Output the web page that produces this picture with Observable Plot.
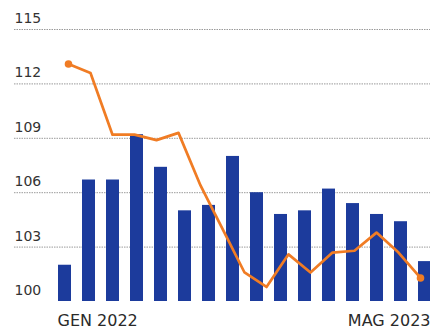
<!DOCTYPE html>
<html>
<head>
<meta charset="utf-8">
<script src="https://cdn.jsdelivr.net/npm/d3@7"></script>
<script src="https://cdn.jsdelivr.net/npm/@observablehq/plot@0.6"></script>
<style>
  html, body { margin: 0; padding: 0; background: #fff; overflow: hidden; }
  #wrap { position: relative; width: 430px; height: 329px; overflow: hidden; }
  #wrap svg { position: absolute; left: 0; top: 0; }
</style>
</head>
<body>
<div id="wrap"></div>
<script>
// Months (Jan 2022 – May 2023)
const months = ["GEN 2022","FEB 2022","MAR 2022","APR 2022","MAG 2022","GIU 2022","LUG 2022","AGO 2022","SET 2022","OTT 2022","NOV 2022","DIC 2022","GEN 2023","FEB 2023","MAR 2023","APR 2023","MAG 2023"];
// Bar series (visible months)
const barValues = [102.0, 106.7, 106.7, 109.2, 107.4, 105.0, 105.3, 108.0, 106.0, 104.8, 105.0, 106.2, 105.4, 104.8, 104.4, 102.2];
// Line series
const lineValues = [113.1, 112.6, 109.2, 109.2, 108.9, 109.3, 106.4, 104.0, 101.6, 100.8, 102.6, 101.6, 102.7, 102.8, 103.8, 102.7, 101.3];
const yTicks = [100, 103, 106, 109, 112, 115];
const xLabels = ["GEN 2022", "MAG 2023"];
const baseValue = 100;

const barData = barValues.map((v, i) => ({month: months[i], value: v}));
const lineData = lineValues.map((v, i) => ({month: months[i], value: v}));

const W = 430, H = 329;
const common = {
  width: W, height: H,
  marginTop: 29, marginBottom: 28,
  style: {fontFamily: "DejaVu Sans", background: "transparent", overflow: "visible"}
};

const barPlot = Plot.plot({
  ...common,
  marginLeft: 14, marginRight: 0,
  x: {type: "band", domain: months, range: [46.1, 467.2], padding: 0.46, axis: null},
  y: {domain: [100, 115], axis: null},
  marks: [
    Plot.ruleY(yTicks.filter(t => t > baseValue), {stroke: "#9a9a9a", strokeWidth: 1, strokeDasharray: "1.5,1"}),
    Plot.barY(barData, {x: "month", y1: () => baseValue, y2: "value", fill: "#1c3b9c"}),
    Plot.ruleY([baseValue], {stroke: "#4a4a4a", strokeWidth: 1.5, x1: () => 0.5}),
    Plot.axisY({ticks: yTicks, label: null, tickSize: 0, tickPadding: 0, textAnchor: "start", dx: 0, dy: -11, fontSize: 14, fill: "#333", anchor: "left", tickFormat: d => String(d), style: {letterSpacing: "0.6px"}})
  ]
});

const linePlot = Plot.plot({
  ...common,
  marginLeft: 0, marginRight: 0,
  x: {type: "point", domain: months, range: [62.7, 425], padding: 0, axis: null},
  y: {domain: [100, 115], axis: null},
  marks: [
    Plot.line(lineData, {x: "month", y: "value", stroke: "#f07c24", strokeWidth: 2.7, strokeLinejoin: "round"}),
    Plot.dot([lineData[0], lineData[lineData.length - 1]], {x: "month", y: "value", r: 3.8, fill: "#f07c24"}),
    Plot.axisX({ticks: [xLabels[0]], label: null, anchor: "bottom", tickSize: 0, tickPadding: 0, textAnchor: "start", dx: -11, dy: 13, fontSize: 16, fill: "#2a2a2a", tickFormat: d => d, style: {letterSpacing: "1px"}}),
    Plot.axisX({ticks: [xLabels[1]], label: null, anchor: "bottom", tickSize: 0, tickPadding: 0, textAnchor: "end", dx: 10, dy: 13, fontSize: 16, fill: "#2a2a2a", tickFormat: d => d, style: {letterSpacing: "1px"}})
  ]
});

const wrap = document.getElementById("wrap");
wrap.appendChild(barPlot);
wrap.appendChild(linePlot);
</script>
</body>
</html>
